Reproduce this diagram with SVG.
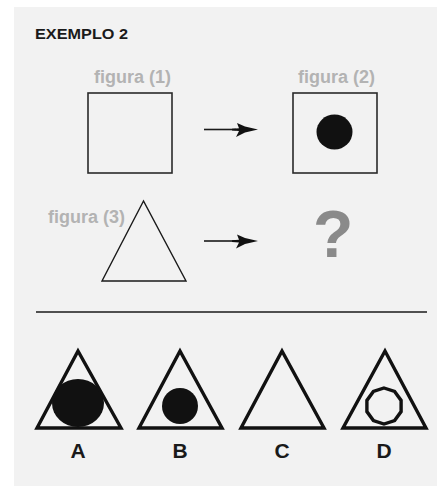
<svg xmlns="http://www.w3.org/2000/svg" width="437" height="486" viewBox="0 0 437 486">
  <style>
    .title { font-family: "Liberation Sans", Arial, sans-serif; font-weight: bold; font-size: 14px; fill: #1a1a1a; }
    .cap { font-family: "Liberation Sans", Arial, sans-serif; font-weight: bold; font-size: 18px; fill: #b3b3b3; }
    .q { font-family: "Liberation Sans", Arial, sans-serif; font-weight: bold; font-size: 66px; fill: #8a8a8a; }
    .opt { font-family: "Liberation Sans", Arial, sans-serif; font-weight: bold; font-size: 21px; fill: #1a1a1a; text-anchor: middle; }
    .box { fill: none; stroke: #2a2a2a; stroke-width: 1.6; }
    .thin { fill: none; stroke: #1a1a1a; stroke-width: 1.4; stroke-linejoin: miter; }
    .thick { fill: none; stroke: #111; stroke-width: 3.4; stroke-linejoin: miter; }
    .dot { fill: #111; }
    .shaft { stroke: #1a1a1a; stroke-width: 1.6; fill: none; }
    .head { fill: #111; }
  </style>
  <defs>
    <path id="jet" d="M0,0 L-13,-3 L-21,-6.5 L-19,-1.2 L-26,-0.8 L-26,1 L-19,1.4 L-22,7.5 L-13,3 Z"/>
  </defs>

  <rect x="0" y="0" width="437" height="486" fill="#ffffff"/>
  <rect x="14" y="7" width="423" height="479" fill="#f2f2f2"/>

  <text class="title" x="35" y="39" textLength="93" lengthAdjust="spacingAndGlyphs">EXEMPLO 2</text>

  <g id="figura1">
    <text class="cap" x="94" y="83">figura (1)</text>
    <rect class="box" x="88" y="93" width="84" height="80"/>
  </g>

  <g id="figura2">
    <text class="cap" x="298" y="83">figura (2)</text>
    <rect class="box" x="293" y="93" width="84" height="80"/>
    <ellipse class="dot" cx="334.5" cy="132" rx="18" ry="17.5"/>
  </g>

  <g id="figura3">
    <text class="cap" x="48" y="223">figura (3)</text>
    <polygon class="thin" points="143.5,201 102,281 186,281"/>
  </g>

  <g id="resposta">
    <text class="q" x="313" y="257">?</text>
  </g>

  <g id="connectors">
    <line class="shaft" x1="204" y1="129.5" x2="236" y2="129.5"/>
    <use href="#jet" class="head" x="258" y="129.5"/>
    <line class="shaft" x1="204" y1="241" x2="236" y2="241"/>
    <use href="#jet" class="head" x="258" y="241"/>
  </g>

  <line x1="36" y1="312" x2="427" y2="312" stroke="#1a1a1a" stroke-width="1.6"/>

  <g id="opcaoA">
    <ellipse class="dot" cx="78" cy="403" rx="26" ry="24"/>
    <polygon class="thick" points="78,351 37,428 121,428"/>
    <text class="opt" x="78" y="458">A</text>
  </g>

  <g id="opcaoB">
    <polygon class="thick" points="180,351 139,428 222,428"/>
    <circle class="dot" cx="180" cy="406" r="18"/>
    <text class="opt" x="180" y="458">B</text>
  </g>

  <g id="opcaoC">
    <polygon class="thick" points="282,351 241,428 324,428"/>
    <text class="opt" x="282" y="458">C</text>
  </g>

  <g id="opcaoD">
    <polygon class="thick" points="385,351 343,428 426,428"/>
    <polygon class="thick" stroke-width="2.8" points="384,388 394.6,391.4 401.1,400.4 401.1,411.6 394.6,420.6 384,424 373.4,420.6 366.9,411.6 366.9,400.4 373.4,391.4"/>
    <text class="opt" x="384" y="458">D</text>
  </g>
</svg>
